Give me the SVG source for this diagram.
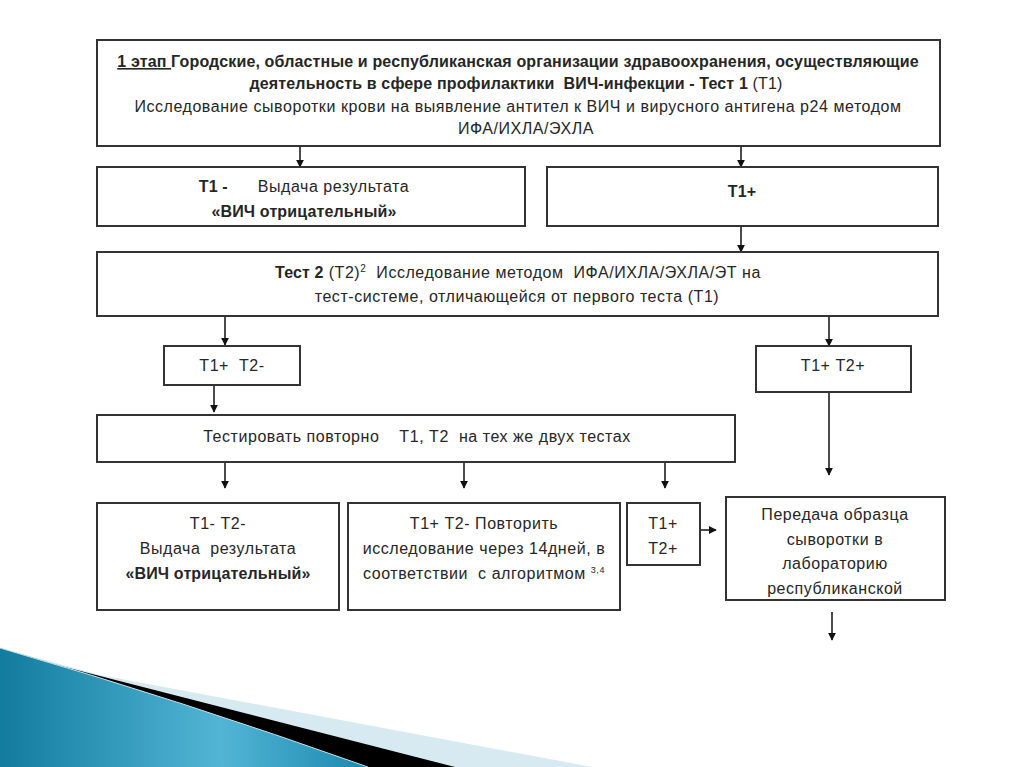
<svg xmlns="http://www.w3.org/2000/svg" width="1024" height="767" viewBox="0 0 1024 767">
  <defs>
    <style>
      .box { fill: #ffffff; stroke: #333333; stroke-width: 2; }
      .t { font-family: "Liberation Sans", Arial, sans-serif; font-size: 16px; letter-spacing: 0.55px; fill: #262626; text-anchor: middle; white-space: pre; }
      .b { font-weight: bold; letter-spacing: 0.15px; }
      .n { font-weight: normal; }
      .line { stroke: #111111; stroke-width: 1.5; fill: none; marker-end: url(#arrow); }
    </style>
    <marker id="arrow" viewBox="0 0 10 10" refX="9" refY="5" markerWidth="8" markerHeight="9" markerUnits="userSpaceOnUse" orient="auto">
      <path d="M0,0 L10,5 L0,10 z" fill="#111111"/>
    </marker>
    <linearGradient id="blueGrad" x1="0" y1="0" x2="1" y2="0">
      <stop offset="0" stop-color="#127c9e"/>
      <stop offset="0.6" stop-color="#52b5d6"/>
      <stop offset="1" stop-color="#1b89ae"/>
    </linearGradient>
  </defs>

  <rect width="1024" height="767" fill="#ffffff"/>

  <g id="decoration">
    <polygon points="0,648 100,675 592,767 0,767" fill="#d7e9f1"/>
    <polygon points="0,648 57,665 455,767 0,767" fill="#000000"/>
    <path d="M0,648 Q180,700 368,767 L0,767 Z" fill="url(#blueGrad)"/>
    <path d="M0,648 Q180,700 368,767" fill="none" stroke="#bfe2ee" stroke-width="1"/>
  </g>

  <g id="connectors">
    <line class="line" x1="300" y1="146" x2="300" y2="167"/>
    <line class="line" x1="741" y1="146" x2="741" y2="167"/>
    <line class="line" x1="741" y1="226" x2="741" y2="252"/>
    <line class="line" x1="225" y1="316" x2="225" y2="345"/>
    <line class="line" x1="829" y1="316" x2="829" y2="346"/>
    <line class="line" x1="214" y1="385" x2="214" y2="412"/>
    <line class="line" x1="829" y1="392" x2="829" y2="475"/>
    <line class="line" x1="225" y1="462" x2="225" y2="488"/>
    <line class="line" x1="464" y1="462" x2="464" y2="488"/>
    <line class="line" x1="665" y1="462" x2="665" y2="488"/>
    <line class="line" x1="700" y1="530" x2="716" y2="530"/>
    <line class="line" x1="832" y1="612" x2="832" y2="640"/>
  </g>

  <g id="node-stage1">
    <rect class="box" x="97" y="40" width="843" height="106"/>
    <text class="t b" x="518" y="67"><tspan text-decoration="underline">1 этап </tspan>Городские, областные и республиканская организации здравоохранения, осуществляющие</text>
    <text class="t b" x="516" y="89">деятельность в сфере профилактики  ВИЧ-инфекции - Тест 1 <tspan class="n">(Т1)</tspan></text>
    <text class="t" x="518" y="112">Исследование сыворотки крови на выявление антител к ВИЧ и вирусного антигена р24 методом</text>
    <text class="t" x="526" y="134">ИФА/ИХЛА/ЭХЛА</text>
  </g>

  <g id="node-t1-neg">
    <rect class="box" x="97" y="167" width="428" height="59"/>
    <text class="t" x="304" y="192"><tspan class="b">Т1 -</tspan>      Выдача результата</text>
    <text class="t b" x="304" y="217">«ВИЧ отрицательный»</text>
  </g>

  <g id="node-t1-pos">
    <rect class="box" x="547" y="167" width="391" height="59"/>
    <text class="t b" x="742" y="197">Т1+</text>
  </g>

  <g id="node-test2">
    <rect class="box" x="97" y="252" width="841" height="64"/>
    <text class="t" x="518" y="278"><tspan class="b">Тест 2</tspan> (Т2)<tspan font-size="10" dy="-6">2</tspan><tspan dy="6">  Исследование методом  ИФА/ИХЛА/ЭХЛА/ЭТ на</tspan></text>
    <text class="t" x="517" y="302">тест-системе, отличающейся от первого теста (Т1)</text>
  </g>

  <g id="node-t1pos-t2neg">
    <rect class="box" x="164" y="346" width="136" height="39"/>
    <text class="t" x="232" y="371">Т1+  Т2-</text>
  </g>

  <g id="node-t1pos-t2pos">
    <rect class="box" x="756" y="346" width="155" height="46"/>
    <text class="t" x="833" y="371">Т1+ Т2+</text>
  </g>

  <g id="node-retest">
    <rect class="box" x="97" y="415" width="638" height="47"/>
    <text class="t" x="417" y="442">Тестировать повторно    Т1, Т2  на тех же двух тестах</text>
  </g>

  <g id="node-neg-result">
    <rect class="box" x="97" y="503" width="242" height="107"/>
    <text class="t" x="218" y="529">Т1- Т2-</text>
    <text class="t" x="218" y="554">Выдача  результата</text>
    <text class="t b" x="218" y="579">«ВИЧ отрицательный»</text>
  </g>

  <g id="node-repeat">
    <rect class="box" x="348" y="503" width="272" height="107"/>
    <text class="t" x="484" y="529">Т1+ Т2- Повторить</text>
    <text class="t" x="484" y="554">исследование через 14дней, в</text>
    <text class="t" x="484" y="579">соответствии  с алгоритмом <tspan font-size="9" dy="-6">3,4</tspan></text>
  </g>

  <g id="node-t1t2-pos">
    <rect class="box" x="627" y="503" width="73" height="62"/>
    <text class="t" x="663" y="529">Т1+</text>
    <text class="t" x="663" y="554">Т2+</text>
  </g>

  <g id="node-transfer">
    <rect class="box" x="726" y="497" width="219" height="103"/>
    <text class="t" x="835" y="520">Передача образца</text>
    <text class="t" x="835" y="545">сыворотки в</text>
    <text class="t" x="835" y="569">лабораторию</text>
    <text class="t" x="835" y="594">республиканской</text>
  </g>
</svg>
